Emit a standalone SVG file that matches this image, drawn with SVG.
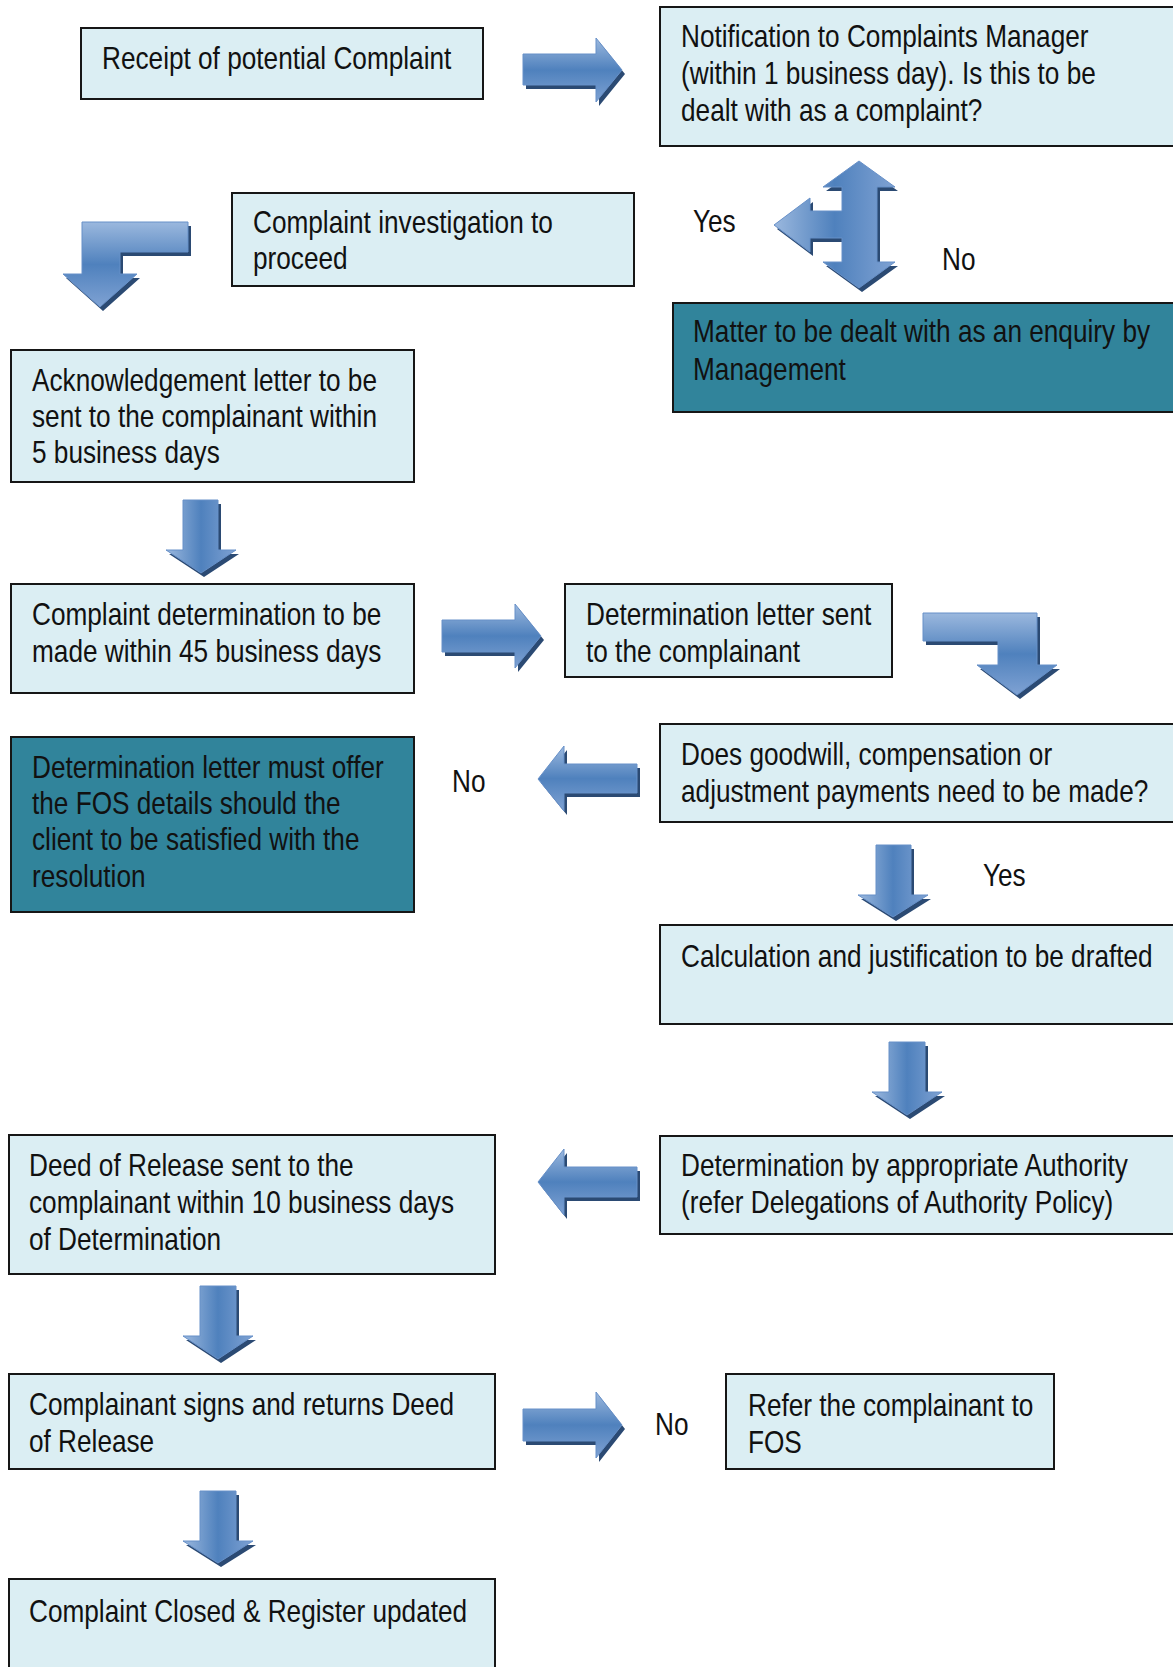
<svg xmlns="http://www.w3.org/2000/svg" xmlns:xlink="http://www.w3.org/1999/xlink" width="1173" height="1667" viewBox="0 0 1173 1667">
<style>
.box{fill:#DBEEF3;stroke:#161616;stroke-width:2}
.dark{fill:#31849B;stroke:#161616;stroke-width:2}
.t{font-family:"Liberation Sans",Arial,sans-serif;font-size:31px;fill:#111}
.sh{fill:#2B4A73}
.ah{stroke:#6790C8;stroke-width:1}
</style>
<defs>
<linearGradient id="gH" x1="0" y1="0" x2="0" y2="1">
<stop offset="0" stop-color="#9BB8DE"/><stop offset="0.5" stop-color="#4F81BD"/><stop offset="1" stop-color="#7FA2D3"/>
</linearGradient>
<linearGradient id="gV" x1="0" y1="0" x2="1" y2="0">
<stop offset="0" stop-color="#9BB8DE"/><stop offset="0.5" stop-color="#4F81BD"/><stop offset="1" stop-color="#7FA2D3"/>
</linearGradient>
<path id="a1" d="M523,54 H596 V38 L622,70 L596,102 V85 H523 Z"/>
<path id="a2" d="M442,620 H515 V604 L541,636 L515,668 V652 H442 Z"/>
<path id="a3" d="M523,1409 H596 V1392 L622,1425 L596,1458 V1441 H523 Z"/>
<path id="l1" d="M637,764 H564 V746 L538,779 L564,811 V793 H637 Z"/>
<path id="l2" d="M637,1167 H564 V1149 L538,1182 L564,1215 V1197 H637 Z"/>
<path id="d1" d="M183,500 H218 V550 H236 L201,573 L166,550 H183 Z"/>
<path id="d2" d="M876,845 H911 V895 H928 L893,917 L858,895 H876 Z"/>
<path id="d3" d="M889,1042 H925 V1092 H942 L907,1115 L872,1092 H889 Z"/>
<path id="d4" d="M200,1286 H236 V1336 H253 L218,1359 L183,1336 H200 Z"/>
<path id="d5" d="M200,1491 H236 V1541 H253 L218,1563 L183,1541 H200 Z"/>
<path id="b1" d="M188,222 V252 H120 V274 H137 L100,307 L63,274 H82 V222 Z"/>
<path id="b2" d="M923,613 H1037 V665 H1057 L1017,695 L977,665 H998 V641 H923 Z"/>
<path id="h1" d="M859,161 L895,187 H877 V262 H895 L859,288 L823,262 H842 V238 H810 V252 L774,225 L810,198 V211 H842 V187 H823 Z"/>
</defs>
<rect width="1173" height="1667" fill="#fff"/>

<g id="connectors">
<use href="#a1" class="sh" transform="translate(3,4)"/><use href="#a1" class="ah" fill="url(#gH)"/>
<use href="#a2" class="sh" transform="translate(3,4)"/><use href="#a2" class="ah" fill="url(#gH)"/>
<use href="#a3" class="sh" transform="translate(3,4)"/><use href="#a3" class="ah" fill="url(#gH)"/>
<use href="#l1" class="sh" transform="translate(3,4)"/><use href="#l1" class="ah" fill="url(#gH)"/>
<use href="#l2" class="sh" transform="translate(3,4)"/><use href="#l2" class="ah" fill="url(#gH)"/>
<use href="#d1" class="sh" transform="translate(3,4)"/><use href="#d1" class="ah" fill="url(#gV)"/>
<use href="#d2" class="sh" transform="translate(3,4)"/><use href="#d2" class="ah" fill="url(#gV)"/>
<use href="#d3" class="sh" transform="translate(3,4)"/><use href="#d3" class="ah" fill="url(#gV)"/>
<use href="#d4" class="sh" transform="translate(3,4)"/><use href="#d4" class="ah" fill="url(#gV)"/>
<use href="#d5" class="sh" transform="translate(3,4)"/><use href="#d5" class="ah" fill="url(#gV)"/>
<use href="#b1" class="sh" transform="translate(3,4)"/><use href="#b1" class="ah" fill="url(#gH)"/>
<use href="#b2" class="sh" transform="translate(3,4)"/><use href="#b2" class="ah" fill="url(#gH)"/>
<use href="#h1" class="sh" transform="translate(3,4)"/><use href="#h1" class="ah" fill="url(#gV)"/>
<text class="t" transform="translate(693,232) scale(0.845 1)">Yes</text>
<text class="t" transform="translate(942,270) scale(0.845 1)">No</text>
<text class="t" transform="translate(452,792) scale(0.845 1)">No</text>
<text class="t" transform="translate(983,886) scale(0.845 1)">Yes</text>
<text class="t" transform="translate(655,1435) scale(0.845 1)">No</text>
</g>

<g id="n-receipt">
<rect class="box" x="81" y="28" width="402" height="71"/>
<text class="t" transform="translate(102,69) scale(0.845 1)">Receipt of potential Complaint</text>
</g>
<g id="n-notification">
<rect class="box" x="660" y="7" width="520" height="139"/>
<text class="t" transform="translate(681,47) scale(0.845 1)"><tspan x="0" y="0">Notification to Complaints Manager</tspan><tspan x="0" y="37">(within 1 business day). Is this to be</tspan><tspan x="0" y="74">dealt with as a complaint?</tspan></text>
</g>
<g id="n-investigation">
<rect class="box" x="232" y="193" width="402" height="93"/>
<text class="t" transform="translate(253,233) scale(0.845 1)"><tspan x="0" y="0">Complaint investigation to</tspan><tspan x="0" y="36">proceed</tspan></text>
</g>
<g id="n-enquiry">
<rect class="dark" x="673" y="303" width="507" height="109"/>
<text class="t" transform="translate(693,342) scale(0.845 1)"><tspan x="0" y="0">Matter to be dealt with as an enquiry by</tspan><tspan x="0" y="38">Management</tspan></text>
</g>
<g id="n-ack">
<rect class="box" x="11" y="350" width="403" height="132"/>
<text class="t" transform="translate(32,391) scale(0.845 1)"><tspan x="0" y="0">Acknowledgement letter to be</tspan><tspan x="0" y="36">sent to the complainant within</tspan><tspan x="0" y="72">5 business days</tspan></text>
</g>
<g id="n-determination">
<rect class="box" x="11" y="584" width="403" height="109"/>
<text class="t" transform="translate(32,625) scale(0.845 1)"><tspan x="0" y="0">Complaint determination to be</tspan><tspan x="0" y="37">made within 45 business days</tspan></text>
</g>
<g id="n-detletter">
<rect class="box" x="565" y="584" width="327" height="93"/>
<text class="t" transform="translate(586,625) scale(0.845 1)"><tspan x="0" y="0">Determination letter sent</tspan><tspan x="0" y="37">to the complainant</tspan></text>
</g>
<g id="n-goodwill">
<rect class="box" x="660" y="724" width="520" height="98"/>
<text class="t" transform="translate(681,765) scale(0.845 1)"><tspan x="0" y="0">Does goodwill, compensation or</tspan><tspan x="0" y="37">adjustment payments need to be made?</tspan></text>
</g>
<g id="n-fos-offer">
<rect class="dark" x="11" y="737" width="403" height="175"/>
<text class="t" transform="translate(32,778) scale(0.845 1)"><tspan x="0" y="0">Determination letter must offer</tspan><tspan x="0" y="36">the FOS details should the</tspan><tspan x="0" y="72">client to be satisfied with the</tspan><tspan x="0" y="109">resolution</tspan></text>
</g>
<g id="n-calc">
<rect class="box" x="660" y="925" width="520" height="99"/>
<text class="t" transform="translate(681,967) scale(0.845 1)">Calculation and justification to be drafted</text>
</g>
<g id="n-authority">
<rect class="box" x="660" y="1136" width="520" height="98"/>
<text class="t" transform="translate(681,1176) scale(0.845 1)"><tspan x="0" y="0">Determination by appropriate Authority</tspan><tspan x="0" y="37">(refer Delegations of Authority Policy)</tspan></text>
</g>
<g id="n-deed">
<rect class="box" x="9" y="1135" width="486" height="139"/>
<text class="t" transform="translate(29,1176) scale(0.845 1)"><tspan x="0" y="0">Deed of Release sent to the</tspan><tspan x="0" y="37">complainant within 10 business days</tspan><tspan x="0" y="74">of Determination</tspan></text>
</g>
<g id="n-signs">
<rect class="box" x="9" y="1374" width="486" height="95"/>
<text class="t" transform="translate(29,1415) scale(0.845 1)"><tspan x="0" y="0">Complainant signs and returns Deed</tspan><tspan x="0" y="37">of Release</tspan></text>
</g>
<g id="n-refer">
<rect class="box" x="726" y="1374" width="328" height="95"/>
<text class="t" transform="translate(748,1416) scale(0.845 1)"><tspan x="0" y="0">Refer the complainant to</tspan><tspan x="0" y="37">FOS</tspan></text>
</g>
<g id="n-closed">
<rect class="box" x="9" y="1579" width="486" height="100"/>
<text class="t" transform="translate(29,1622) scale(0.845 1)">Complaint Closed &amp; Register updated</text>
</g>
</svg>
